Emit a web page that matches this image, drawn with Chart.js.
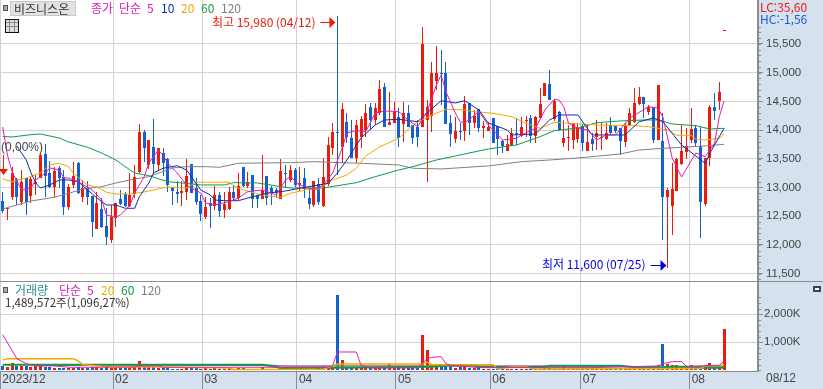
<!DOCTYPE html>
<html lang="ko">
<head>
<meta charset="utf-8">
<style>
  html, body { margin: 0; padding: 0; background: #fff; overflow: hidden; }
  canvas { position: absolute; left: 0; display: block; }
  #priceChart { top: 0; }
  #volumeChart { top: 281px; }
</style>
<script src="https://cdn.jsdelivr.net/npm/chart.js@4"></script>
</head>
<body>
<canvas id="priceChart" width="823" height="281"></canvas>
<canvas id="volumeChart" width="823" height="108"></canvas>
<script>
// one candle per trading day, 2023/12 .. 2024/08
var opens = [
  12770,12617,12829,13148,12753,13166,12852,13061,13166,13584,
  13253,13009,13345,13183,12660,13044,13427,12829,12991,12852,
  12277,12626,12330,12086,12469,12800,12887,12678,12887,13275,
  13972,13392,13711,13392,13606,13497,13014,12927,12910,12927,
  13410,12991,12770,12486,12730,12678,12870,12608,12626,12922,
  12817,13363,13026,13218,12870,12800,13200,12991,12957,12800,
  13258,13131,13305,13044,13171,12817,12695,13061,12678,13061,
  13688,13967,13706,14146,13862,13514,13885,14002,14402,14176,
  14298,14751,14089,14129,14234,14106,14298,14089,14059,14054,
  14176,14246,14861,15000,14995,14124,13845,13990,13990,14472,
  14129,14368,14036,13990,14211,14072,13810,13641,13723,13955,
  13897,14164,14211,13897,14211,14600,14803,14193,14315,13775,
  13862,13828,13850,14072,13641,13845,13880,13854,13850,14089,
  14072,14036,13798,14089,14141,14455,14582,14310,14408,13828,
  13810,12840,12683,12944,13410,13624,13828,14036,13723,12713,
  13514,14397,14512,15726
];
var highs = [
  12927,12648,13363,13166,13305,13166,13206,13218,13601,13758,
  13467,13357,13380,13305,13061,13450,13444,13131,13119,12852,
  12927,12817,12643,12695,12735,12957,12927,13253,13392,14106,
  14002,13828,14193,13688,13688,13514,13014,13113,13113,13497,
  13410,13166,12870,12840,12817,13026,12927,12927,13014,13044,
  13253,13363,13275,13218,12870,13566,13200,13026,12991,13491,
  13392,13392,13340,13363,13340,12991,13113,13166,13514,13885,
  14124,15980,14472,14303,14176,14176,14246,14455,14472,14472,
  14873,14821,14669,14490,14385,14495,14437,14089,14176,15791,
  14524,15192,15465,15396,15192,14263,14234,14124,14594,14472,
  14350,14368,14164,14141,14211,14072,13830,13915,14036,14211,
  14228,14246,14263,14246,14734,14821,15047,14542,14333,14176,
  14089,14129,14124,14106,14089,13950,14176,14124,14124,14234,
  14072,14036,14124,14385,14734,14751,14582,14437,14408,14786,
  14298,12991,13427,13514,14089,14036,14385,14089,14054,13514,
  14437,14652,14843,15749
];
var lows = [
  12556,12434,12782,12695,12695,12521,12735,12870,13166,12835,
  12991,12835,12991,12521,12608,12991,12887,12753,12695,12143,
  12277,12295,11999,12039,12312,12695,12666,12666,12817,13253,
  13450,13323,13253,13305,13200,12922,12695,12730,12678,12782,
  12904,12695,12422,12451,12295,12608,12491,12469,12608,12765,
  12782,13014,12991,12643,12643,12800,12695,12695,12817,12800,
  13009,13096,13014,12939,12817,12626,12660,12695,12660,13026,
  13566,13218,13427,13775,13514,13427,13688,13880,14002,14089,
  14263,14054,14089,14124,13706,13798,14054,13758,13706,14054,
  13101,13972,14698,14437,14106,13706,13775,13828,13815,13915,
  14036,13972,13862,13984,13770,13566,13606,13636,13723,13740,
  13880,13880,13780,13775,14206,14594,14524,14159,13984,13706,
  13641,13671,13775,13641,13641,13641,13653,13653,13828,13915,
  13950,13566,13706,14089,14124,14437,14211,14263,13775,13828,
  12086,11600,12173,12939,13392,13497,13775,13723,12120,12678,
  13380,14176,14350,15721
];
var closes = [
  12596,12648,13258,12840,13101,12753,13148,13091,13566,13206,
  13014,13288,13166,12666,13009,13201,12904,12991,12835,12404,
  12735,12312,12133,12486,12730,12713,12678,12870,13188,13972,
  13694,13828,13410,13688,13427,13044,12944,12887,12940,13200,
  12910,12748,12539,12666,12678,12870,12596,12713,12922,12817,
  13026,13026,13101,12800,12795,12957,12812,12910,12910,13288,
  13235,13305,13044,13079,12974,12713,13113,12748,13188,13741,
  13972,13950,14368,13885,13514,14089,14193,14303,14176,14390,
  14716,14059,14146,14321,13862,14298,14054,13868,13885,15500,
  14408,14995,14995,14990,14106,13932,13984,13979,14455,14124,
  14246,14036,14072,14054,13770,13845,13723,13758,13955,13932,
  14054,14176,13897,14234,14455,14821,14524,14512,14002,13868,
  13880,14129,14036,13780,13798,13758,13950,13871,13955,13950,
  13984,13816,14089,14303,14472,14577,14455,14408,13828,14786,
  12840,12957,12974,13497,13636,13723,14019,13775,12753,13514,
  14408,14338,14664,15744
];
// volume in thousands of shares
var volumes = [
  155,130,250,150,170,150,110,150,200,120,
  110,90,90,90,80,90,130,80,90,120,
  120,90,100,90,90,70,70,75,110,330,
  120,100,110,70,85,80,60,50,60,70,
  70,70,60,70,60,70,60,60,70,60,
  70,70,60,60,50,130,60,60,40,130,
  60,60,60,60,60,60,60,70,155,155,
  120,2690,357,120,120,120,120,120,83,83,
  83,83,214,83,120,120,120,83,83,1260,
  725,240,180,155,155,155,85,120,155,85,
  85,85,40,40,50,50,60,50,50,60,
  50,50,60,50,60,155,70,60,50,120,
  60,50,50,60,50,50,50,50,60,50,
  50,60,50,50,120,50,60,60,110,180,
  940,225,190,190,130,130,190,130,130,190,
  260,130,160,1490
];

// moving averages: [candle number, value]
var ma5 = [[0,14054],[1,13566],[2,13270],[4,12957],[6,12991],[7,13131],[9,13247],[10,13340],[12,13305],[13,13166],[14,13166],[16,13101],[19,12957],[21,12782],[22,12521],[24,12486],[25,12521],[27,12695],[28,12905],[30,13188],[31,13427],[33,13653],[34,13566],[35,13427],[37,13253],[39,13044],[40,12991],[42,12905],[43,12730],[45,12695],[48,12753],[50,12817],[52,12927],[55,12957],[58,12870],[60,13131],[61,13188],[63,13044],[66,12957],[68,13044],[70,13253],[72,13688],[73,13950],[75,13990],[77,13972],[79,14298],[81,14333],[84,14321],[86,14176],[88,14059],[90,14321],[92,14786],[93,14960],[94,14669],[96,14298],[97,14146],[98,14124],[101,14321],[103,14089],[106,13828],[109,13857],[110,13915],[113,14031],[115,14350],[117,14537],[118,14524],[119,14408],[120,14118],[122,14031],[124,14002],[126,13828],[128,13915],[130,13915],[133,14211],[137,14408],[139,14385],[140,14234],[142,13514],[144,13183],[147,13601],[149,13537],[151,13775],[152,14234],[153,14507]];
var ma10 = [[3,13723],[4,13601],[5,13479],[6,13253],[7,13079],[8,12991],[10,13044],[12,13131],[14,13131],[16,13101],[18,12957],[20,12817],[22,12695],[24,12695],[26,12638],[28,12638],[29,12840],[31,13079],[32,13253],[34,13335],[37,13380],[39,13305],[42,12957],[44,12870],[45,12782],[47,12770],[50,12770],[53,12840],[56,12899],[60,12939],[63,12986],[69,13073],[71,13253],[73,13479],[76,13862],[79,14089],[81,14176],[84,14188],[88,14146],[90,14298],[93,14512],[96,14472],[98,14512],[101,14350],[103,14124],[107,14002],[108,13915],[113,13932],[116,14176],[118,14263],[122,14263],[125,13915],[128,13915],[132,13915],[135,14146],[138,14211],[140,14146],[144,13740],[149,13422],[150,13601],[153,14031]];
var ma20 = [[0,13148],[2,13101],[3,13131],[5,13166],[8,13253],[10,13392],[12,13422],[14,13363],[15,13247],[18,13044],[20,13004],[22,12917],[24,12887],[27,12887],[30,12922],[33,12974],[35,13009],[39,12991],[41,13091],[48,13091],[49,13026],[51,12957],[55,12870],[59,12829],[61,12899],[65,12969],[67,12969],[68,13026],[70,13131],[73,13218],[75,13335],[77,13549],[80,13711],[84,13857],[87,14089],[91,14263],[94,14362],[98,14350],[100,14321],[104,14293],[108,14234],[111,14118],[114,14031],[117,14136],[122,14107],[126,14089],[134,14077],[137,14059],[141,14002],[143,13909],[146,13909],[147,13845],[149,13828],[152,13857],[153,13932]];
var ma60 = [[0,13889],[2,13880],[6,13920],[8,13932],[12,13862],[14,13793],[18,13700],[21,13601],[24,13479],[27,13305],[28,13253],[31,13206],[35,13101],[38,13079],[42,13044],[47,13044],[49,13084],[54,13079],[61,12991],[68,12991],[72,13044],[75,13084],[79,13188],[84,13305],[87,13363],[92,13479],[96,13549],[103,13671],[109,13741],[114,13885],[117,13990],[122,14036],[126,14129],[131,14159],[136,14176],[139,14176],[142,14106],[147,14077],[150,14019],[153,14031]];
var ma120 = [[0,12626],[3,12695],[6,12765],[11,12829],[14,12899],[17,12974],[21,13014],[24,13079],[28,13148],[31,13188],[36,13340],[39,13363],[43,13363],[46,13352],[50,13422],[61,13432],[66,13450],[69,13439],[76,13422],[84,13392],[87,13335],[93,13323],[103,13375],[110,13450],[116,13479],[122,13514],[131,13584],[135,13653],[139,13676],[144,13700],[149,13723],[153,13752]];
var volMa5 = [[0,1273],[3,416],[5,238],[7,155],[11,155],[14,110],[28,110],[29,155],[33,155],[34,110],[69,110],[70,180],[71,654],[75,654],[76,180],[78,85],[88,85],[90,416],[91,464],[93,488],[94,238],[95,180],[101,95],[125,95],[139,155],[140,238],[142,309],[144,309],[145,143],[152,180],[153,321]];
var volMa20 = [[0,369],[1,416],[15,416],[16,333],[17,200],[21,143],[48,83],[49,30],[68,40],[71,226],[89,226],[90,297],[91,202],[104,202],[105,60],[108,119],[111,119],[112,83],[113,50],[148,60],[149,166],[152,166],[153,190]];
var volMa60 = [[0,200],[55,200],[57,155],[59,83],[71,95],[91,130],[95,180],[100,190],[101,120],[115,120],[116,166],[131,166],[135,95],[140,95],[141,131],[145,131],[146,95],[153,95]];
var volMa120 = [[7,180],[56,180],[60,155],[120,155],[135,131],[153,131]];

// month boundaries on the candle axis and their labels
var monthTicks = [-0.5, 23.4, 42.3, 62.4, 83.4, 103.4, 122.6, 145.7];
var monthLabels = ['2023/12', '02', '03', '04', '05', '06', '07', '08'];
var priceTicks = [11500, 12000, 12500, 13000, 13500, 14000, 14500, 15000, 15500];
var volumeTicks = [1000, 2000];

var RED = '#ec1c0c', BLUE = '#1560cf';
var MAGENTA = '#e01cb8', NAVY = '#0f2ea8', ORANGE = '#f2a900', GREEN = '#109a48', GREY = '#808080';
var PANEL = '#d6e1ef', LINE = '#8c8c8c', GRID = '#d2d2d2', INK = '#444';
var LATIN = '"Liberation Sans", sans-serif';
var KR = '"Noto Sans CJK KR", sans-serif';

function candleColors() {
  return closes.map(function (c, i) { return c >= opens[i] ? RED : BLUE; });
}
function points(list) {
  return list.map(function (p) { return { x: p[0], y: p[1] }; });
}
function maLine(label, list, color, width, order) {
  return { type: 'line', label: label, data: points(list), borderColor: color, borderWidth: width,
           pointRadius: 0, tension: 0, order: order, parsing: false };
}
function txt(ctx, s, x, y, color, font, align) {
  ctx.fillStyle = color;
  ctx.font = font || ('12px ' + KR);
  ctx.textAlign = align || 'left';
  ctx.textBaseline = 'middle';
  ctx.fillText(s, x, y);
}
function fmt(v) { return Number(v).toLocaleString('en-US'); }
function rect(ctx, x, y, w, h, fill, stroke) {
  ctx.fillStyle = fill;
  ctx.fillRect(x, y, w, h);
  if (stroke) { ctx.strokeStyle = stroke; ctx.lineWidth = 1; ctx.strokeRect(x + .5, y + .5, w - 1, h - 1); }
}
function arrow(ctx, x0, x1, y, color) {
  ctx.strokeStyle = color; ctx.fillStyle = color; ctx.lineWidth = 1;
  ctx.beginPath(); ctx.moveTo(x0, y + .5); ctx.lineTo(x1 - 5, y + .5); ctx.stroke();
  ctx.beginPath(); ctx.moveTo(x1, y + .5); ctx.lineTo(x1 - 6, y - 5); ctx.lineTo(x1 - 6, y + 6); ctx.closePath(); ctx.fill();
}
function minorTicks(chart, scale, from, to, step) {
  var ctx = chart.ctx, right = chart.chartArea.right;
  ctx.strokeStyle = LINE; ctx.lineWidth = 1;
  for (var v = from; v <= to; v += step) {
    var y = Math.round(scale.getPixelForValue(v)) + .5;
    ctx.beginPath(); ctx.moveTo(right, y); ctx.lineTo(right + 3, y); ctx.stroke();
  }
}
// chart.js keeps half a label of room at the ends of an axis, the original does not
function noPadding(s) {
  s.paddingTop = 0; s.paddingBottom = 0; s.paddingLeft = 0; s.paddingRight = 0;
}

// paints the blue axis panels behind the plot
var panelPlugin = {
  id: 'panels',
  beforeDraw: function (chart) {
    var a = chart.chartArea, ctx = chart.ctx;
    rect(ctx, a.right, 0, chart.width - a.right, chart.height, PANEL);
    if (chart.height > a.bottom) rect(ctx, 0, a.bottom, chart.width, chart.height - a.bottom, PANEL);
  }
};
// keeps bars on whole pixels like the original
var snapPlugin = {
  id: 'snap',
  afterDatasetsUpdate: function (chart) {
    chart.getSortedVisibleDatasetMetas().forEach(function (m) {
      if (m.type !== 'bar') return;
      m.data.forEach(function (b) {
        b.x = Math.floor(b.x) + .5;
        b.y = Math.round(b.y);
        b.base = Math.round(b.base);
        if (b.base === b.y) b.base = b.y + 1;
      });
    });
  }
};

var pricePlugin = {
  id: 'priceText',
  afterDraw: function (chart) {
    var ctx = chart.ctx, xs = chart.scales.x, ys = chart.scales.y;
    minorTicks(chart, ys, 11400, 15800, 100);

    rect(ctx, 3, 5, 5, 6, '#aaa', '#555');
    rect(ctx, 10, 1, 66, 15, '#e2e2e2', '#c8c8c8');
    txt(ctx, '비즈니스온', 14, 9, '#333');
    txt(ctx, '종가', 91, 8, MAGENTA);
    txt(ctx, '단순', 119, 8, MAGENTA);
    txt(ctx, '5', 147, 8, MAGENTA);
    txt(ctx, '10', 161, 8, NAVY);
    txt(ctx, '20', 181, 8, ORANGE);
    txt(ctx, '60', 201, 8, GREEN);
    txt(ctx, '120', 221, 8, GREY);

    // small table icon
    rect(ctx, 5, 19, 14, 14, '#ddd', '#111');
    ctx.strokeStyle = '#888'; ctx.lineWidth = 1;
    ctx.beginPath();
    [9.5, 14.5].forEach(function (gx) { ctx.moveTo(gx, 20); ctx.lineTo(gx, 32); });
    [22.5, 26.5].forEach(function (gy) { ctx.moveTo(6, gy); ctx.lineTo(18, gy); });
    ctx.stroke();

    txt(ctx, 'LC:35,60', 760, 7, RED);
    txt(ctx, 'HC:-1,56', 760, 19, BLUE);

    var hi = highs.indexOf(Math.max.apply(null, highs));
    var lo = lows.indexOf(Math.min.apply(null, lows));
    var hx = xs.getPixelForValue(hi), hy = ys.getPixelForValue(highs[hi]);
    var lx = xs.getPixelForValue(lo), ly = ys.getPixelForValue(lows[lo]);
    txt(ctx, '최고 ' + fmt(highs[hi]) + ' (04/12)', hx - 22, hy + 6, RED, null, 'right');
    arrow(ctx, hx - 17, hx - 2, Math.round(hy + 6), RED);
    txt(ctx, '최저 ' + fmt(lows[lo]) + ' (07/25)', lx - 22, ly - 3, '#0000ee', null, 'right');
    arrow(ctx, lx - 17, lx - 1, Math.round(ly - 3), '#0000ee');

    // base price marker at the left edge
    txt(ctx, '(0,00%)', 1, 148, INK, '12px ' + LATIN);
    ctx.strokeStyle = RED; ctx.fillStyle = RED; ctx.lineWidth = 1;
    ctx.beginPath(); ctx.moveTo(3.5, 155); ctx.lineTo(3.5, 170); ctx.stroke();
    ctx.beginPath(); ctx.moveTo(-1, 169); ctx.lineTo(8, 169); ctx.lineTo(3.5, 175); ctx.closePath(); ctx.fill();
  }
};

var volumePlugin = {
  id: 'volumeText',
  afterDraw: function (chart) {
    var ctx = chart.ctx, ys = chart.scales.y;
    minorTicks(chart, ys, 0, 2600, 200);
    ctx.fillStyle = LINE;
    ctx.fillRect(0, 0, chart.width, 1);

    rect(ctx, 3, 6, 5, 6, '#aaa', '#555');
    txt(ctx, '거래량', 15, 9, '#2a8f8f');
    txt(ctx, '단순', 59, 9, MAGENTA);
    txt(ctx, '5', 87, 9, MAGENTA);
    txt(ctx, '20', 101, 9, ORANGE);
    txt(ctx, '60', 121, 9, GREEN);
    txt(ctx, '120', 141, 9, GREY);
    txt(ctx, fmt(1489572) + '주(1,096,27%)', 5, 22, '#333', '11.5px ' + KR);

    // zoom toggle in the corner
    rect(ctx, 813, 5, 8, 6, '#444');
    rect(ctx, 815, 7, 4, 2, '#fff');

    txt(ctx, '08/12', 766, 98, INK, '12px ' + LATIN);
  }
};

var xAxisBase = {
  type: 'linear',
  offset: false,
  min: -0.573,
  max: 160.2,
  afterBuildTicks: function (s) { s.ticks = monthTicks.map(function (v) { return { value: v }; }); }
};

var priceChart = new Chart(document.getElementById('priceChart'), {
  type: 'bar',
  data: {
    datasets: [
      maLine('5', ma5, MAGENTA, 1, 1),
      maLine('10', ma10, NAVY, 1, 2),
      maLine('20', ma20, ORANGE, 1, 3),
      maLine('60', ma60, GREEN, 1, 4),
      maLine('120', ma120, GREY, 1, 5),
      {
        label: 'body',
        data: opens.map(function (o, i) { return { x: i, y: [o, closes[i]] }; }),
        backgroundColor: candleColors(),
        maxBarThickness: 3,
        grouped: false,
        order: 10
      },
      {
        label: 'wick',
        data: highs.map(function (h, i) { return { x: i, y: [lows[i], h] }; }),
        backgroundColor: candleColors(),
        maxBarThickness: 1,
        grouped: false,
        order: 11
      }
    ]
  },
  options: {
    animation: false,
    responsive: false,
    layout: { padding: 0 },
    plugins: { legend: { display: false }, tooltip: { enabled: false } },
    scales: {
      x: Object.assign({}, xAxisBase, {
        grid: { color: GRID, drawTicks: false, offset: false },
        border: { display: false },
        ticks: { display: false },
        afterFit: function (s) { s.height = 0; noPadding(s); }
      }),
      y: {
        type: 'linear',
        position: 'right',
        min: 11371,
        max: 16266,
        afterBuildTicks: function (s) { s.ticks = priceTicks.map(function (v) { return { value: v }; }); },
        afterFit: function (s) { s.width = 65; noPadding(s); },
        grid: { color: GRID, tickLength: 5, tickColor: LINE },
        border: { color: LINE, width: 2 },
        ticks: {
          autoSkip: false,
          padding: 3,
          color: INK,
          font: { family: 'Liberation Sans', size: 11.5 },
          callback: function (v) { return fmt(v); }
        }
      }
    }
  },
  plugins: [panelPlugin, snapPlugin, pricePlugin]
});

var volumeChart = new Chart(document.getElementById('volumeChart'), {
  type: 'bar',
  data: {
    datasets: [
      maLine('5', volMa5, MAGENTA, 1, 1),
      maLine('20', volMa20, ORANGE, 1.5, 2),
      maLine('60', volMa60, GREEN, 2, 3),
      maLine('120', volMa120, GREY, 1.5, 4),
      {
        label: 'volume',
        data: volumes.map(function (v, i) { return { x: i, y: v }; }),
        backgroundColor: candleColors(),
        maxBarThickness: 3,
        grouped: false,
        order: 10
      }
    ]
  },
  options: {
    animation: false,
    responsive: false,
    layout: { padding: 0 },
    plugins: { legend: { display: false }, tooltip: { enabled: false } },
    scales: {
      x: Object.assign({}, xAxisBase, {
        afterFit: function (s) { s.height = 18; noPadding(s); },
        grid: { color: GRID, tickLength: 18, tickColor: LINE, offset: false },
        border: { color: LINE, width: 1 },
        ticks: {
          autoSkip: false,
          maxRotation: 0,
          align: 'start',
          padding: -17,
          labelOffset: 2,
          color: INK,
          font: { family: 'Liberation Sans', size: 12 },
          callback: function (v, i) { return monthLabels[i]; }
        }
      }),
      y: {
        type: 'linear',
        position: 'right',
        min: -25,
        max: 3189,
        afterBuildTicks: function (s) { s.ticks = volumeTicks.map(function (v) { return { value: v }; }); },
        afterFit: function (s) { s.width = 65; noPadding(s); },
        grid: { color: GRID, tickLength: 5, tickColor: LINE },
        border: { color: LINE, width: 2 },
        ticks: {
          autoSkip: false,
          padding: 1,
          color: INK,
          font: { family: 'Liberation Sans', size: 11.5 },
          callback: function (v) { return fmt(v) + 'K'; }
        }
      }
    }
  },
  plugins: [panelPlugin, snapPlugin, volumePlugin]
});
</script>
</body>
</html>
